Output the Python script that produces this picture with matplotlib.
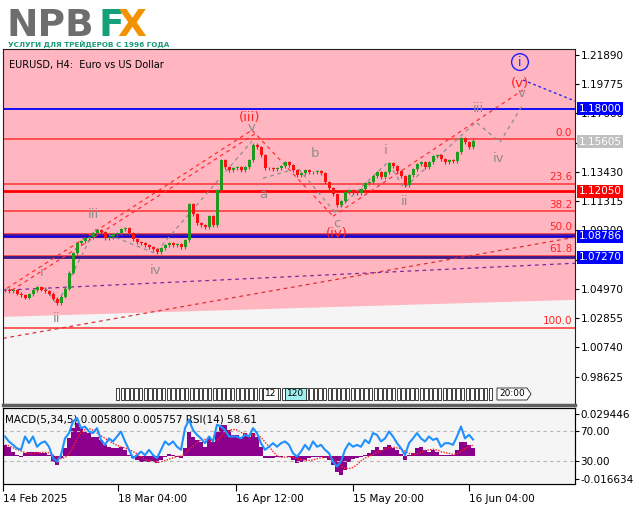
import numpy as np
import pandas as pd
import matplotlib
matplotlib.use("Agg")
import matplotlib.pyplot as plt
import matplotlib.transforms as mtransforms
from matplotlib.patches import Rectangle, Polygon

# ---- data (H4 bars, resampled) ----
closes = [1.0493, 1.0479, 1.0486, 1.0464, 1.0450, 1.0435, 1.0457, 1.0486, 1.0508, 1.0493,
          1.0479, 1.0464, 1.0428, 1.0392, 1.0442, 1.0500, 1.0616, 1.0754, 1.0826, 1.0841,
          1.0863, 1.0870, 1.0899, 1.0921, 1.0906, 1.0863, 1.0870, 1.0892, 1.0899, 1.0928,
          1.0935, 1.0899, 1.0855, 1.0834, 1.0826, 1.0812, 1.0797, 1.0783, 1.0761, 1.0790,
          1.0812, 1.0826, 1.0812, 1.0819, 1.0797, 1.0848, 1.1109, 1.1037, 1.0971, 1.0957,
          1.0942, 1.1022, 1.0957, 1.1211, 1.1428, 1.1377, 1.1356, 1.1370, 1.1377, 1.1356,
          1.1377, 1.1428, 1.1537, 1.1522, 1.1464, 1.1370, 1.1370, 1.1363, 1.1370, 1.1384,
          1.1413, 1.1392, 1.1356, 1.1319, 1.1334, 1.1356, 1.1341, 1.1341, 1.1348, 1.1334,
          1.1269, 1.1225, 1.1182, 1.1102, 1.1131, 1.1196, 1.1211, 1.1196, 1.1189, 1.1218,
          1.1261, 1.1269, 1.1312, 1.1341, 1.1305, 1.1341, 1.1406, 1.1384, 1.1348, 1.1312,
          1.1247, 1.1319, 1.1363, 1.1399, 1.1413, 1.1377, 1.1413, 1.1457, 1.1464, 1.1435,
          1.1413, 1.1428, 1.1421, 1.1486, 1.1587, 1.1558, 1.1522, 1.1566]

macd_hist = [0.0078, 0.0066, 0.0030, 0.0007, -0.0005, 0.0021, 0.0030, 0.0030, 0.0028, 0.0021,
             0.0021, 0.0007, -0.0040, -0.0064, -0.0014, 0.0057, 0.0128, 0.0199, 0.0234, 0.0208,
             0.0172, 0.0163, 0.0137, 0.0137, 0.0113, 0.0078, 0.0066, 0.0057, 0.0057, 0.0066,
             0.0043, 0.0007, -0.0014, -0.0028, -0.0040, -0.0040, -0.0040, -0.0043, -0.0050, -0.0028,
             -0.0005, 0.0014, 0.0007, -0.0005, -0.0012, 0.0057, 0.0172, 0.0137, 0.0113, 0.0101,
             0.0066, 0.0128, 0.0101, 0.0172, 0.0220, 0.0220, 0.0184, 0.0149, 0.0149, 0.0137,
             0.0163, 0.0137, 0.0163, 0.0137, 0.0066, -0.0014, -0.0014, -0.0014, -0.0007, -0.0005,
             0.0000, -0.0007, -0.0028, -0.0050, -0.0040, -0.0028, -0.0014, -0.0007, -0.0007, -0.0005,
             -0.0014, -0.0028, -0.0064, -0.0111, -0.0135, -0.0099, -0.0040, -0.0021, -0.0014, -0.0005,
             0.0007, 0.0021, 0.0043, 0.0066, 0.0043, 0.0066, 0.0078, 0.0057, 0.0043, 0.0014,
             -0.0028, 0.0007, 0.0021, 0.0057, 0.0066, 0.0043, 0.0030, 0.0043, 0.0030, 0.0007,
             0.0007, 0.0007, 0.0007, 0.0043, 0.0101, 0.0101, 0.0078, 0.0058]

rsi_vals = [62.5, 55.8, 51.5, 47.0, 45.0, 62.5, 54.0, 62.5, 49.0, 54.0,
            56.0, 49.0, 34.0, 29.5, 38.0, 60.0, 67.0, 82.0, 87.0, 73.5,
            75.6, 69.0, 67.0, 73.5, 58.0, 51.5, 60.0, 56.0, 62.5, 69.0,
            56.0, 45.0, 34.0, 38.0, 42.6, 38.0, 45.0, 38.0, 34.0, 45.0,
            56.0, 51.5, 56.0, 49.0, 45.0, 73.5, 84.5, 71.0, 64.7, 60.0,
            53.7, 62.5, 56.0, 78.0, 75.6, 71.0, 62.5, 62.5, 62.5, 60.0,
            64.7, 62.5, 73.5, 67.0, 53.7, 45.0, 49.0, 53.7, 49.0, 53.7,
            56.0, 51.5, 40.5, 36.0, 42.6, 51.5, 45.0, 56.0, 49.0, 51.5,
            45.0, 40.5, 29.5, 23.0, 29.5, 45.0, 53.7, 49.0, 51.5, 49.0,
            58.0, 53.7, 67.0, 64.7, 56.0, 60.0, 69.0, 62.5, 53.7, 47.0,
            38.0, 53.7, 60.0, 67.0, 60.0, 56.0, 62.5, 58.0, 60.0, 49.0,
            53.7, 53.7, 51.5, 62.5, 75.6, 60.0, 64.7, 58.61]

date_labels = ["14 Feb 2025", "18 Mar 04:00", "16 Apr 12:00", "15 May 20:00", "16 Jun 04:00"]
date_pos = [-0.5, 28.25, 57.75, 87.0, 116.0]

price_ticks = [1.21890, 1.19775, 1.17660, 1.15545, 1.13430, 1.11315,
               1.09200, 1.07085, 1.04970, 1.02855, 1.00740, 0.98625]

fib_top = 1.1579
fib_bottom = 1.0215
fib_levels = [0.0, 23.6, 38.2, 50.0, 61.8, 100.0]

# marked levels
level_vals = [1.18000, 1.12050, 1.08786, 1.07270]
last_price = 1.15605

# wave paths (bar index, price)
path1_x = [10, 13, 22.5, 37.5, 61.75]
path1_y = [1.0509, 1.0386, 1.0929, 1.0755, 1.1566]
path2_x = [64.5, 73.25, 82.5]
path2_y = [1.1298, 1.1371, 1.1052]
path3_x = [82.5, 95.75, 99.75, 117.75, 123.75, 129.25]
path3_y = [1.1052, 1.1414, 1.1226, 1.1704, 1.1559, 1.1820]

gray_labels = ["i", "ii", "iii", "iv", "v", "a", "b", "c", "i", "ii", "iii", "iv", "v"]
gray_x = [9.25, 13, 22, 37.75, 61.75, 64.5, 77.5, 83, 95.25, 100, 118.25, 123.5, 129.25]
gray_y = [1.0618, 1.0285, 1.1038, 1.0632, 1.1668, 1.1183, 1.1479, 1.0973, 1.1501, 1.1132,
          1.1805, 1.1443, 1.1914]
red_labels = ["(iii)", "(iv)", "(v)"]
red_x = [61.25, 83, 128.75]
red_y = [1.1740, 1.0900, 1.1986]

W, H = 639, 508
fig = plt.figure(figsize=(W / 100, H / 100), dpi=100)
fig.patch.set_facecolor("white")

ax = fig.add_axes([3 / W, 1 - 405 / H, 572 / W, 356 / H])
ax.set_xlim(-0.5, 142.5)
ax.set_ylim(0.96578, 1.22324)
ax.set_facecolor("#f5f5f5")

# pink zone
xx = np.array([-0.5, 142.5])
ax.fill_between(xx, [1.0299, 1.0422], [1.23, 1.23], color="#ffb6c1", lw=0, zorder=0)

# fibonacci lines
for lv in fib_levels:
    p = fib_top - (fib_top - fib_bottom) * lv / 100
    ax.axhline(p, color="#ff3333", lw=1.1, zorder=1)
    ax.text(141.8, p + 0.0012, f"{lv:.1f}", color="#ff2222", fontsize=7.5,
            ha="right", va="bottom", zorder=5)

ax.axhline(level_vals[0], color="#0000ff", lw=1.3, zorder=2)
ax.axhline(level_vals[1], color="#ff0000", lw=2.0, zorder=2)
ax.axhline(level_vals[2], color="#5a1a8a", lw=3.0, zorder=2)
ax.axhline(level_vals[2], color="#0000ff", lw=1.0, zorder=2)
ax.axhline(level_vals[3], color="#3a1a8a", lw=2.0, zorder=2)

# trend lines
ax.plot([-0.5, 142.5], [1.0140, 1.0871], color="#e03030", lw=0.9, ls=(0, (3, 3)), zorder=2)
ax.plot([-0.5, 142.5], [1.0488, 1.0683], color="#7a2aa0", lw=0.9, ls=(0, (3, 3)), zorder=2)
ax.plot([0.5, 61.75], [1.0502, 1.1646], color="#ff3030", lw=0.9, ls=(0, (3, 3)), zorder=2)
ax.plot([1.75, 62.75], [1.0488, 1.1624], color="#ff3030", lw=0.9, ls=(0, (3, 3)), zorder=2)
ax.plot([61.75, 82], [1.1646, 1.1023], color="#ff3030", lw=0.9, ls=(0, (3, 3)), zorder=2)
ax.plot([82, 129.5], [1.1023, 1.1936], color="#ff3030", lw=0.9, ls=(0, (3, 3)), zorder=2)
ax.plot([129.5, 142.5], [1.2008, 1.1856], color="#2a2af0", lw=1.0, ls=(0, (2, 2)), zorder=2)

for px_, py_ in [(path1_x, path1_y), (path2_x, path2_y), (path3_x, path3_y)]:
    ax.plot(px_, py_, color="#8c8c8c", lw=0.9, ls=(0, (3, 3)), zorder=2)

# candles
x = np.arange(len(closes))
c = np.array(closes)
o = np.r_[1.0486, c[:-1]]
hi = np.maximum(o, c) + 0.0012
lo = np.minimum(o, c) - 0.0012
cols = np.where(c >= o, "#1f9a1f", "#ff1010")
ax.vlines(x, lo, hi, colors=cols, lw=0.8, zorder=3)
ax.bar(x, np.where(np.abs(c - o) < 0.0004, 0.0004, c - o), bottom=o, width=0.75,
       color=cols, lw=0, zorder=4)

# wave labels
for t, lx, ly in zip(gray_labels, gray_x, gray_y):
    ax.text(lx, ly, t, color="#8c8c8c", fontsize=9.5, ha="center", va="center", zorder=6)
for t, lx, ly in zip(red_labels, red_x, red_y):
    ax.text(lx, ly, t, color="#ff2020", fontsize=9.5, ha="center", va="center", zorder=6)
ax.text(128.75, 1.2138, "i", color="#2020ff", fontsize=9, ha="center", va="center", zorder=6,
        bbox=dict(boxstyle="circle,pad=0.15", fc="none", ec="#2020ff", lw=1.0))

ax.text(0.01, 0.97, "EURUSD, H4:  Euro vs US Dollar", transform=ax.transAxes,
        fontsize=7, va="top", ha="left")

# right price axis (1.15545 sits fully under the last-price box)
ax.yaxis.tick_right()
ax.set_yticks(price_ticks)
ax.set_yticklabels(["" if abs(v - 1.15545) < 1e-6 else f"{v:.5f}" for v in price_ticks],
                   fontsize=7.5)
ax.tick_params(axis="y", length=3, pad=1, width=0.8)
ax.set_xticks([])
for s in ax.spines.values():
    s.set_color("#202020")
ax.spines["bottom"].set_linewidth(2.5)
ax.spines["bottom"].set_color("#606060")

trans = mtransforms.blended_transform_factory(ax.transAxes, ax.transData)
box_cols = ["#0000ff", "#ff0000", "#0000ff", "#0000ff"]
for v, bc in zip(level_vals, box_cols):
    ax.text(1.006, v, f"{v:.5f}", transform=trans, fontsize=7.5, color="white",
            va="center", ha="left", clip_on=False, zorder=10,
            bbox=dict(boxstyle="square,pad=0.15", fc=bc, ec="none"))
ax.text(1.006, last_price, f"{last_price:.5f}", transform=trans, fontsize=7.5, color="white",
        va="center", ha="left", clip_on=False, zorder=10,
        bbox=dict(boxstyle="square,pad=0.15", fc="#c0c0c0", ec="none"))

# overlapping time labels strip inside the main panel
for xp in np.arange(116, 492, 4.6):
    fig.patches.append(Rectangle((xp / W, 1 - 400 / H), 3.4 / W, 12 / H,
                                 transform=fig.transFigure, fc="white", ec="#202020", lw=0.6))
fig.patches.append(Rectangle((263 / W, 1 - 400 / H), 15 / W, 12 / H, transform=fig.transFigure,
                             fc="white", ec="#202020", lw=0.6))
fig.text(270.5 / W, 1 - 394 / H, "12", fontsize=6.5, ha="center", va="center")
fig.patches.append(Rectangle((285 / W, 1 - 400 / H), 21 / W, 12 / H, transform=fig.transFigure,
                             fc="#9ff0f0", ec="#202020", lw=0.6))
fig.text(295.5 / W, 1 - 394 / H, "120", fontsize=6.5, ha="center", va="center")
fig.patches.append(Polygon([(497 / W, 1 - 388 / H), (527 / W, 1 - 388 / H), (531 / W, 1 - 394 / H),
                            (527 / W, 1 - 400 / H), (497 / W, 1 - 400 / H)],
                           transform=fig.transFigure, fc="white", ec="#202020", lw=0.6))
fig.text(512 / W, 1 - 394 / H, "20:00", fontsize=6.5, ha="center", va="center")

# ---- MACD / RSI panel ----
ax2 = fig.add_axes([3 / W, 1 - 484 / H, 572 / W, 76 / H])
ax2.set_facecolor("#f5f5f5")
ax2.set_xlim(-0.5, 142.5)
ax2.set_ylim(-0.01985, 0.0340)
hist = np.array(macd_hist)
ax2.bar(x, hist, width=1.0, color="#8b008b", lw=0, zorder=2)
signal = pd.Series(hist).rolling(5, min_periods=1).mean()
ax2.plot(x, signal, color="#ff2020", lw=1.0, ls=(0, (1, 1)), zorder=3)
ax2.set_xticks(date_pos)
ax2.set_xticklabels(date_labels, fontsize=7.5)
for lbl in ax2.get_xticklabels():
    lbl.set_ha("left")
ax2.tick_params(axis="x", length=5, pad=2)
for s in ax2.spines.values():
    s.set_color("#202020")

ax3 = ax2.twinx()
ax3.set_ylim(0, 100)
ax3.axhline(70, color="#b4b4b4", lw=0.8, ls=(0, (3, 3)), zorder=1)
ax3.axhline(30, color="#b4b4b4", lw=0.8, ls=(0, (3, 3)), zorder=1)
ax3.plot(x, rsi_vals, color="#1e90ff", lw=1.5, zorder=4)
ax3.set_yticks([70, 30])
ax3.set_yticklabels(["70.00", "30.00"], fontsize=7.5)
ax3.tick_params(axis="y", length=3, pad=1)
ax3.text(0.004, 0.92, "MACD(5,34,5) 0.005800 0.005757 RSI(14) 58.61", transform=ax3.transAxes,
         fontsize=7.5, va="top", ha="left")

# twinx moves the MACD ticks to the left, put them back on the right
ax2.yaxis.tick_right()
ax2.set_yticks([0.029446, -0.016634])
ax2.set_yticklabels(["0.029446", "-0.016634"], fontsize=7.5)
ax2.tick_params(axis="y", length=3, pad=1)

# ---- logo ----
fig.text(7 / W, 1 - 36 / H, "NPB", fontsize=27, fontweight="bold", color="#6e6e6e",
         va="baseline", ha="left")
fig.text(99 / W, 1 - 36 / H, "F", fontsize=27, fontweight="bold", color="#14a078",
         va="baseline", ha="left")
fig.text(117 / W, 1 - 36 / H, "X", fontsize=27, fontweight="bold", color="#f39200",
         va="baseline", ha="left")
fig.text(8 / W, 1 - 47 / H, "УСЛУГИ ДЛЯ ТРЕЙДЕРОВ С 1996 ГОДА", fontsize=5.2,
         fontweight="bold", color="#1a9a7a", va="baseline", ha="left")

fig.savefig("out.png", dpi=100)
